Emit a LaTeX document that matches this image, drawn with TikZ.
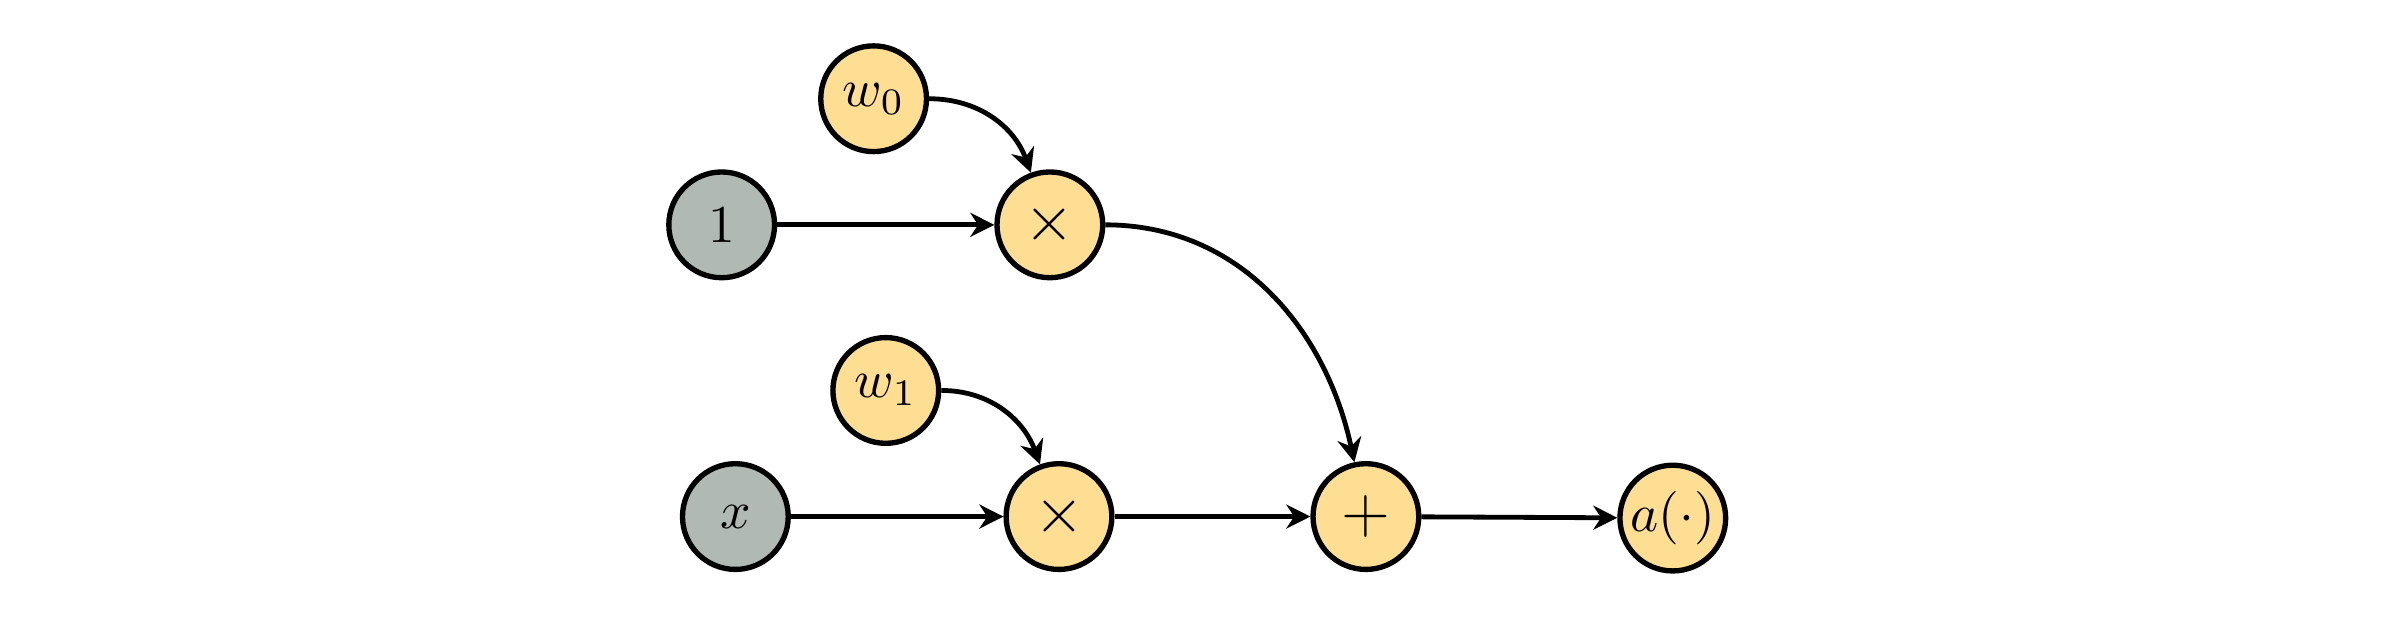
\documentclass[tikz,border=0pt]{standalone}
\usepackage{amsmath,amssymb}
\usepackage{xcolor}
\definecolor{myyellow}{RGB}{253,222,147}
\definecolor{mygray}{RGB}{177,185,180}
\usepackage{tikz}
\usetikzlibrary{positioning}
\usetikzlibrary{arrows.meta}

\begin{document}
\begin{tikzpicture}
	\useasboundingbox (-4.84,-0.68) rectangle (10.93,3.40);
	\begin{scope}[every node/.style={fill=myyellow,circle,line width=1pt,draw,minimum size=19.8pt,inner sep=0pt}]
	    \node[fill=mygray] (I) at (-0.09,1.92) {$1$};
	    \node (W0) at (0.91,2.75) {$w_0$};
	    \node[font=\large] (M0) at (2.07,1.92) {$\times$};
	    \node[fill=mygray] (X) at (0,0) {$x$};
	    \node (W1) at (0.99,0.83) {$w_1$};
	    \node[font=\large] (M1) at (2.13,0) {$\times$};
	    \node[font=\large] (S) at (4.15,0) {$+$};
	    \node (A) at (6.17,-0.01) {$a(\cdot)$};
	\end{scope}

	\begin{scope}[>={Stealth[black,length=4.5pt,width=4.5pt]},
	              every edge/.style={draw=black,line width=0.9pt}]
    	\path [->] (I) edge (M0);
    	\path [->] (W0) edge [out=0,in=110] (M0);
    	\path [->] (M0) edge [out=0,in=102] (S);
    	\path [->] (X) edge (M1);
    	\path [->] (W1) edge [out=0,in=110] (M1);
    	\path [->] (M1) edge (S);
    	\path [->] (S) edge (A);
	\end{scope}
\end{tikzpicture}
\end{document}
